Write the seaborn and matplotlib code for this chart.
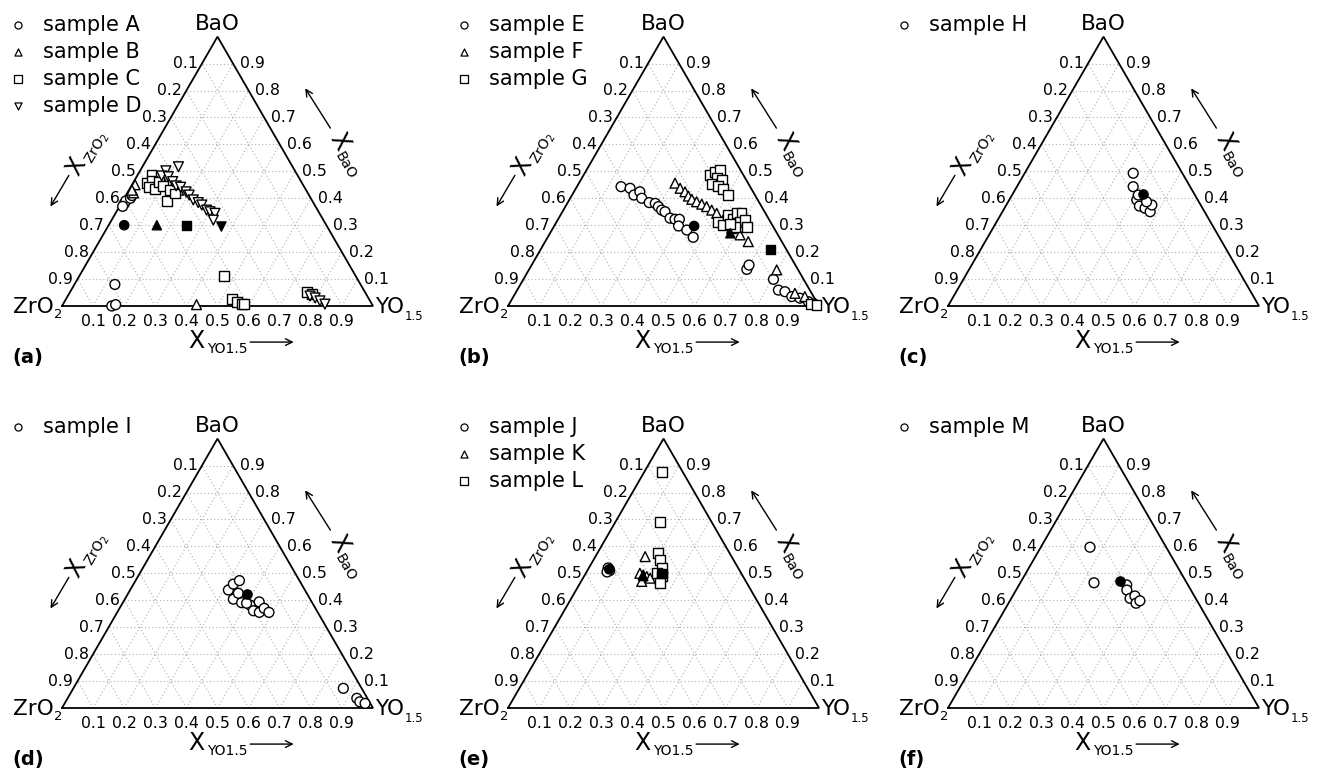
import numpy as np
import pandas as pd
import matplotlib
matplotlib.use("Agg")
import matplotlib.pyplot as plt
import seaborn as sns

# ---------------- data (mole fractions: X_YO1.5, X_BaO; X_ZrO2 = 1 - both) ----------------
# panel (a)
A_yo = [0.01, 0.01, 0.02, 0.01, 0.02, 0.13, 0.16, 0.17]
A_ba = [0.38, 0.39, 0.40, 0.37, 0.41, 0.08, 0.00, 0.005]
B_yo = [0.01, 0.02, 0.01, 0.10, 0.135, 0.16, 0.43]
B_ba = [0.45, 0.42, 0.43, 0.457, 0.438, 0.43, 0.005]
C_yo = [0.045, 0.044, 0.056, 0.060, 0.083, 0.083, 0.103, 0.141, 0.132, 0.154,
        0.465, 0.533, 0.554, 0.575, 0.583, 0.762, 0.781]
C_ba = [0.486, 0.456, 0.465, 0.441, 0.433, 0.460, 0.446, 0.391, 0.431, 0.418,
        0.1125, 0.026, 0.016, 0.006, 0.006, 0.052, 0.045]
D_yo = [0.116, 0.083, 0.079, 0.102, 0.125, 0.144, 0.161, 0.187, 0.203, 0.225,
        0.246, 0.262, 0.287, 0.301, 0.320, 0.327, 0.779, 0.799, 0.820, 0.842]
D_ba = [0.517, 0.502, 0.483, 0.480, 0.462, 0.446, 0.441, 0.424, 0.412, 0.394,
        0.384, 0.375, 0.356, 0.350, 0.344, 0.319, 0.037, 0.030, 0.019, 0.007]
nomA_yo = [0.05, 0.155, 0.25, 0.365]
nomA_ba = [0.30, 0.30, 0.30, 0.295]

# panel (b)
E_yo = [0.142, 0.174, 0.199, 0.212, 0.230, 0.262, 0.283, 0.299, 0.316, 0.330, 0.358,
        0.376, 0.390, 0.400, 0.434, 0.468, 0.700, 0.699, 0.804, 0.840, 0.864, 0.895,
        0.924, 0.958, 0.990]
E_ba = [0.443, 0.437, 0.412, 0.424, 0.400, 0.384, 0.381, 0.369, 0.356, 0.350, 0.326,
        0.322, 0.322, 0.297, 0.282, 0.255, 0.136, 0.152, 0.099, 0.059, 0.053, 0.035,
        0.029, 0.016, 0.003]
F_yo = [0.309, 0.335, 0.357, 0.376, 0.393, 0.413, 0.434, 0.454, 0.477, 0.499, 0.532,
        0.575, 0.614, 0.653, 0.797, 0.899, 0.937, 0.982]
F_ba = [0.456, 0.437, 0.424, 0.408, 0.396, 0.387, 0.378, 0.369, 0.356, 0.344, 0.319,
        0.288, 0.264, 0.239, 0.134, 0.047, 0.035, 0.010]
G_yo = [0.406, 0.416, 0.429, 0.434, 0.452, 0.428, 0.453, 0.476, 0.502, 0.520, 0.542,
        0.539, 0.563, 0.563, 0.578, 0.590, 0.603, 0.621, 0.583, 0.562, 0.970, 0.990]
G_ba = [0.486, 0.499, 0.505, 0.474, 0.470, 0.453, 0.446, 0.433, 0.412, 0.313, 0.301,
        0.338, 0.322, 0.344, 0.346, 0.313, 0.319, 0.294, 0.294, 0.304, 0.007, 0.004]
nomB_yo = [0.45, 0.58, 0.74]
nomB_ba = [0.297, 0.27, 0.21]

# panel (c)
H_yo = [0.349, 0.374, 0.410, 0.430, 0.452, 0.475, 0.468, 0.406, 0.445]
H_ba = [0.493, 0.443, 0.394, 0.371, 0.363, 0.350, 0.375, 0.412, 0.387]
nomC_yo = [0.418]
nomC_ba = [0.415]

# panel (d)
I_yo = [0.316, 0.321, 0.334, 0.349, 0.382, 0.414, 0.435, 0.437, 0.457, 0.465, 0.488,
        0.354, 0.399, 0.868, 0.930, 0.946, 0.966]
I_ba = [0.438, 0.460, 0.473, 0.404, 0.391, 0.382, 0.361, 0.394, 0.355, 0.370, 0.355,
        0.426, 0.389, 0.073, 0.036, 0.023, 0.017]
nomD_yo = [0.383]
nomD_ba = [0.422]

# panel (e)
J_yo = [0.068, 0.062, 0.072, 0.066]
J_ba = [0.515, 0.520, 0.510, 0.505]
K_yo = [0.160, 0.174, 0.188, 0.202, 0.216, 0.195]
K_ba = [0.562, 0.500, 0.494, 0.488, 0.482, 0.470]
L_yo = [0.056, 0.143, 0.196, 0.214, 0.235, 0.228, 0.250, 0.258]
L_ba = [0.877, 0.692, 0.574, 0.550, 0.519, 0.500, 0.488, 0.463]
nomE_yo = [0.068, 0.19, 0.245]
nomE_ba = [0.515, 0.49, 0.50]

# panel (f)
M_yo = [0.158, 0.237, 0.346, 0.356, 0.382, 0.393, 0.410, 0.418]
M_ba = [0.597, 0.465, 0.457, 0.438, 0.407, 0.416, 0.389, 0.398]
nomF_yo = [0.317]
nomF_ba = [0.473]

tick_values = [0.1, 0.2, 0.3, 0.4, 0.5, 0.6, 0.7, 0.8, 0.9]
panel_letters = ["a", "b", "c", "d", "e", "f"]

# ---------------- styling ----------------
sns.set_style("white")
plt.rcParams["font.family"] = ["DejaVu Sans"]
plt.rcParams["mathtext.default"] = "regular"
plt.rcParams["text.color"] = "black"

W, H = 1318, 778
fig = plt.figure(figsize=(W / 100, H / 100), dpi=100)
fig.patch.set_facecolor("white")
SIDE = 311.0
HT = np.sqrt(3) / 2
XL = (-0.2, 1.2)
YL = (-0.2, 0.95)
corners = {"a": (62, 306), "b": (508, 306), "c": (948, 306),
           "d": (62, 708), "e": (508, 708), "f": (948, 708)}
MARKERS = ["o", "^", "s", "v"]
TICK_FS = 11.3
LAB_FS = 15.5
SUB_FS = 8.5
PT_S = 50


def to_xy(yo, ba):
    yo = np.asarray(yo, float)
    ba = np.asarray(ba, float)
    return yo + 0.5 * ba, ba * HT


def rot_title(ax, cx, cy, angle, sub, along, down):
    a = np.deg2rad(angle)
    ax.text(cx, cy, "X", fontsize=17, rotation=angle, rotation_mode="anchor",
            ha="center", va="center")
    sx = cx + along * np.cos(a) + down * np.sin(a)
    sy = cy + along * np.sin(a) - down * np.cos(a)
    ax.text(sx, sy, sub, fontsize=10, rotation=angle, rotation_mode="anchor",
            ha="center", va="center")


def arrow(ax, start, end):
    ax.annotate("", xy=end, xytext=start,
                arrowprops=dict(arrowstyle="->", lw=1.0, color="black",
                                shrinkA=0, shrinkB=0, mutation_scale=12))


def draw_panel(key, samples, nominal):
    cx, cy = corners[key]
    left = cx + XL[0] * SIDE
    right = cx + XL[1] * SIDE
    top = cy - YL[1] * SIDE
    bottom = cy - YL[0] * SIDE
    ax = fig.add_axes([left / W, 1 - bottom / H, (right - left) / W, (bottom - top) / H])
    ax.set_xlim(*XL)
    ax.set_ylim(*YL)
    ax.axis("off")

    # dotted grid
    gkw = dict(color="#b0b0b0", lw=0.8, ls=(0, (1, 2.2)), zorder=1)
    for t in tick_values:
        ax.plot([t / 2, 1 - t / 2], [t * HT, t * HT], **gkw)
        ax.plot([t, t + (1 - t) / 2], [0, (1 - t) * HT], **gkw)
        ax.plot([1 - t, (1 - t) / 2], [0, (1 - t) * HT], **gkw)
    # frame
    ax.plot([0, 1, 0.5, 0], [0, 0, HT, 0], color="black", lw=1.3, zorder=2,
            solid_joinstyle="miter")

    # tick labels
    for t in tick_values:
        lab = f"{t:.1f}"
        ax.text(t, -0.05, lab, fontsize=TICK_FS, ha="center", va="center")
        b = 1 - t
        ax.text(b / 2 - 0.014, b * HT, lab, fontsize=TICK_FS, ha="right", va="center")
        ax.text(1 - t / 2 + 0.022, t * HT, lab, fontsize=TICK_FS, ha="left", va="center")

    # vertex labels
    ax.text(0.5, HT + 0.042, "BaO", fontsize=LAB_FS, ha="center", va="center")
    ax.text(-0.028, -0.024, "ZrO", fontsize=LAB_FS, ha="right", va="baseline")
    ax.text(-0.027, -0.040, "2", fontsize=SUB_FS + 1, ha="left", va="baseline")
    ax.text(1.005, -0.024, "YO", fontsize=LAB_FS, ha="left", va="baseline")
    ax.text(1.103, -0.045, "1.5", fontsize=SUB_FS, ha="left", va="baseline")

    # axis titles
    rot_title(ax, 0.432, -0.113, 0, "YO1.5", 0.098, 0.025)
    arrow(ax, (0.605, -0.116), (0.745, -0.116))
    rot_title(ax, 0.045, 0.45, 60, r"ZrO$_2$", 0.082, 0.03)
    arrow(ax, (0.022, 0.42), (-0.037, 0.32))
    rot_title(ax, 0.893, 0.53, -60, "BaO", 0.078, 0.025)
    arrow(ax, (0.863, 0.572), (0.782, 0.70))

    # data
    names = [s[0] for s in samples]
    rows = []
    for name, yo, ba in samples:
        x, y = to_xy(yo, ba)
        rows.append(pd.DataFrame({"sample": name, "x": x, "y": y}))
    df = pd.concat(rows, ignore_index=True)
    mk = {n: MARKERS[i] for i, n in enumerate(names)}
    sns.scatterplot(data=df, x="x", y="y", style="sample", style_order=names,
                    markers=mk, s=PT_S, color="white", edgecolor="black",
                    linewidth=1.0, legend=False, ax=ax, zorder=3)
    nx, ny = to_xy(nominal[0], nominal[1])
    dfn = pd.DataFrame({"sample": names[:len(nx)], "x": nx, "y": ny})
    sns.scatterplot(data=dfn, x="x", y="y", style="sample", style_order=names[:len(nx)],
                    markers={n: mk[n] for n in names[:len(nx)]}, s=PT_S - 6, color="black",
                    edgecolor="black", linewidth=1.0, legend=False, ax=ax, zorder=4)

    # legend
    for i, n in enumerate(names):
        yy = 0.904 - i * 0.087
        ax.scatter([-0.14], [yy], marker=mk[n], s=26, facecolor="white",
                   edgecolor="black", linewidth=0.9, clip_on=False, zorder=5)
        ax.text(-0.06, yy, f"sample {n}", fontsize=15, ha="left", va="center")

    ax.text(-0.16, -0.167, f"({key})", fontsize=14, fontweight="bold",
            ha="left", va="center")
    ax.set_xlabel("")
    ax.set_ylabel("")
    return ax


draw_panel("a", [("A", A_yo, A_ba), ("B", B_yo, B_ba), ("C", C_yo, C_ba), ("D", D_yo, D_ba)],
           (nomA_yo, nomA_ba))
draw_panel("b", [("E", E_yo, E_ba), ("F", F_yo, F_ba), ("G", G_yo, G_ba)],
           (nomB_yo, nomB_ba))
draw_panel("c", [("H", H_yo, H_ba)], (nomC_yo, nomC_ba))
draw_panel("d", [("I", I_yo, I_ba)], (nomD_yo, nomD_ba))
draw_panel("e", [("J", J_yo, J_ba), ("K", K_yo, K_ba), ("L", L_yo, L_ba)],
           (nomE_yo, nomE_ba))
draw_panel("f", [("M", M_yo, M_ba)], (nomF_yo, nomF_ba))

fig.savefig("out.png", dpi=100, facecolor="white")
